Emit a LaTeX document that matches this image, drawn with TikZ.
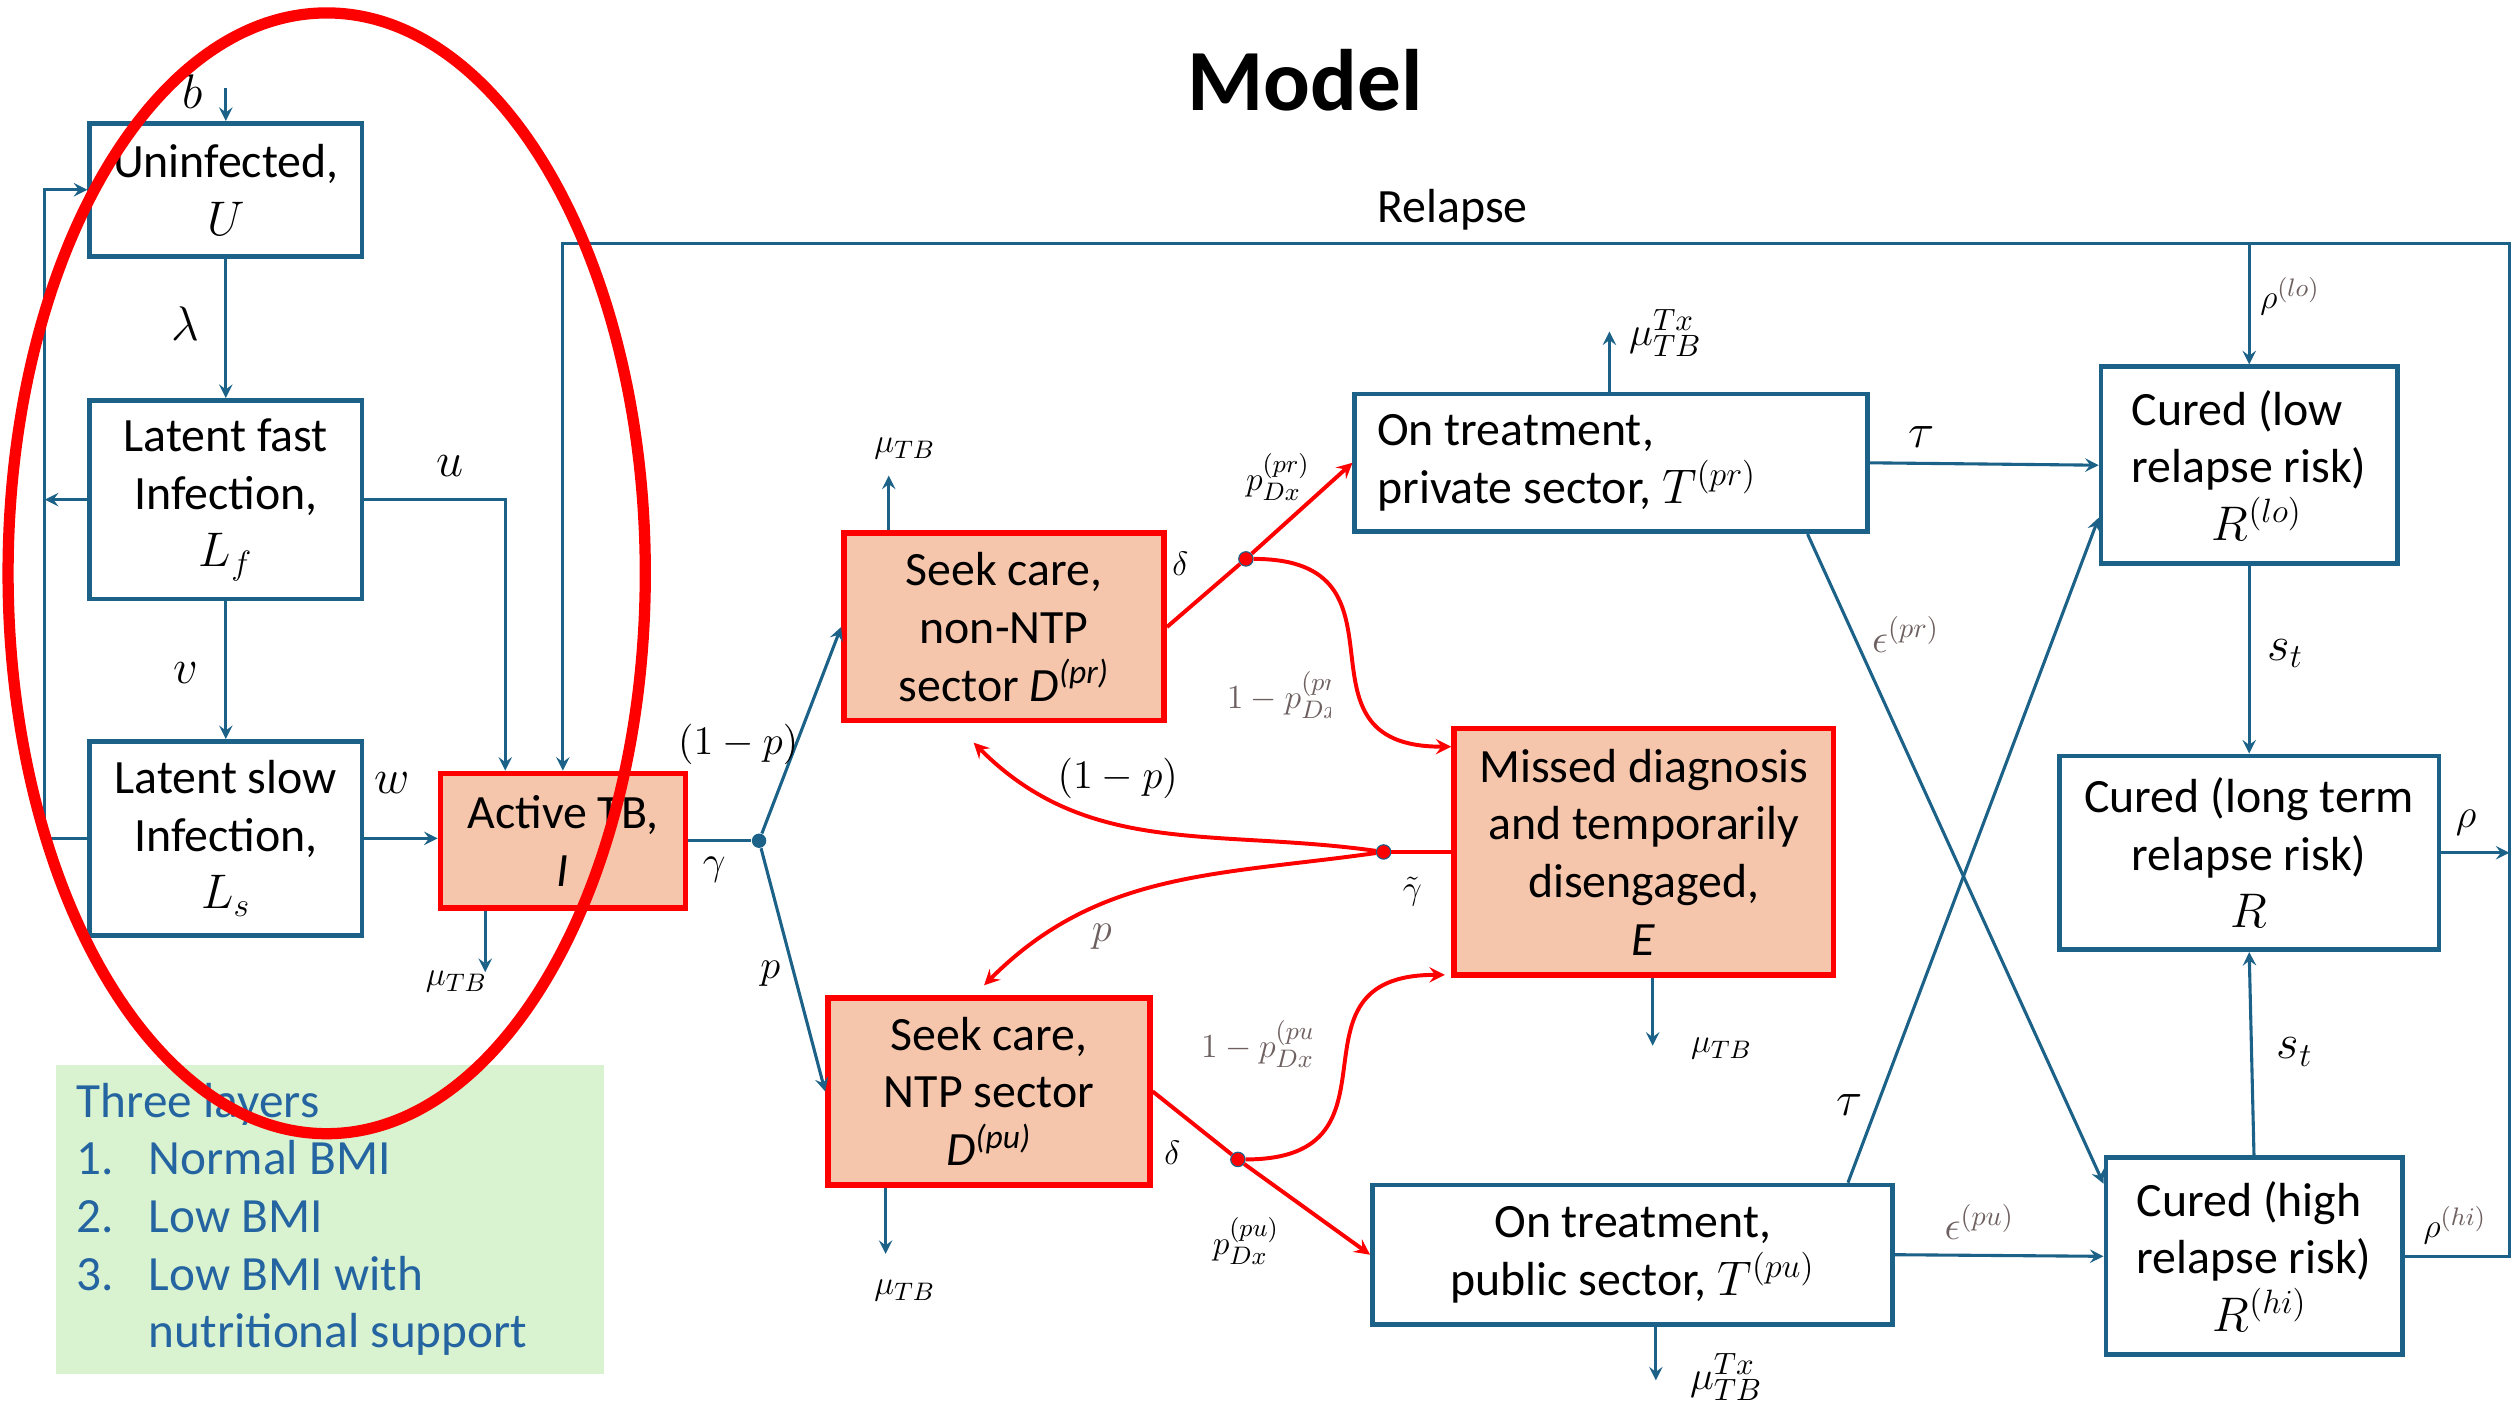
\documentclass[tikz,border=0pt]{standalone}
\usepackage{fontspec}
\setmainfont{Carlito}
\usetikzlibrary{calc}

\definecolor{boxblue}{RGB}{28,98,136}
\definecolor{salmon}{RGB}{246,198,172}
\definecolor{layergreen}{RGB}{217,242,208}
\definecolor{layerblue}{RGB}{36,100,160}
\definecolor{labelgray}{RGB}{110,96,96}

\newcommand{\boxfont}{\fontsize{17}{20.5}\selectfont}

\tikzset{
  bluebox/.style={draw=boxblue, line width=1.7pt, fill=white, font=\boxfont, align=center, inner sep=2pt},
  redbox/.style={draw=red, line width=2pt, fill=salmon, font=\boxfont, align=center, inner sep=2pt},
  flow/.style={->, draw=boxblue, line width=1.1pt},
  blueline/.style={draw=boxblue, line width=1.1pt},
  redflow/.style={->, draw=red, line width=1.4pt},
  redline/.style={draw=red, line width=1.4pt},
  lab/.style={font=\fontsize{15}{18}\selectfont, inner sep=1pt},
  biglab/.style={font=\fontsize{17}{20}\selectfont, inner sep=1pt},
  smalllab/.style={font=\fontsize{13}{15}\selectfont, inner sep=1pt},
  graylab/.style={font=\fontsize{14}{16}\selectfont, inner sep=1pt, text=labelgray},
  junction/.style={circle, inner sep=0pt, minimum size=0.18cm}
}

\begin{document}
\begin{tikzpicture}[x=0.02cm, y=0.02cm, >=stealth]
		% Rahmen festlegen
		\useasboundingbox (0,0) rectangle (1568,-879);
		
		% Titel
		\node[font=\fontsize{31}{36}\selectfont\bfseries] (Title) at (815,-50) {Model};
		\node[font=\boxfont] (Relapse-Label) at (907,-131) {Relapse};
		
		% Kaesten links
		\node[bluebox, minimum width=3.4cm, minimum height=1.66cm] (U-Box) at (141,-118.5) {Uninfected,\\$U$};
		\node[bluebox, minimum width=3.4cm, minimum height=2.48cm] (Lf-Box) at (141,-312) {Latent fast\\Infection,\\$L_f$};
		\node[bluebox, minimum width=3.4cm, minimum height=2.42cm] (Ls-Box) at (141,-523.5) {Latent slow\\Infection,\\$L_s$};
		\node[redbox, minimum width=3.06cm, minimum height=1.68cm] (I-Box) at (351.5,-525) {Active TB,\\\textit{I}};
		
		% Kaesten Mitte
		\node[redbox, minimum width=4cm, minimum height=2.34cm] (Dpr-Box) at (627,-391.5) {Seek care,\\non-NTP\\sector \textit{D}\textsuperscript{\textit{(pr)}}};
		\node[redbox, minimum width=4.02cm, minimum height=2.34cm] (Dpu-Box) at (617.5,-681.5) {Seek care,\\NTP sector\\\textit{D}\textsuperscript{\textit{(pu)}}};
		\node[redbox, minimum width=4.74cm, minimum height=3.08cm] (E-Box) at (1026.5,-532) {Missed diagnosis\\and temporarily\\disengaged,\\\textit{E}};
		\node[bluebox, text width=5.84cm, inner xsep=0.28cm, minimum height=1.72cm, align=flush left] (Tpr-Box) at (1006,-289) {On treatment,\\private sector, $T^{(pr)}$};
		\node[bluebox, minimum width=6.5cm, minimum height=1.74cm] (Tpu-Box) at (1019.5,-783.5) {On treatment,\\public sector, $T^{(pu)}$};
		
		% Kaesten rechts
		\node[bluebox, minimum width=3.7cm, minimum height=2.46cm, align=left] (Rlo-Box) at (1404.5,-290.5) {Cured (low\\relapse risk)\\\hspace*{1.0cm}$R^{(lo)}$};
		\node[bluebox, minimum width=4.74cm, minimum height=2.42cm] (R-Box) at (1404.5,-532.5) {Cured (long term\\relapse risk)\\$R$};
		\node[bluebox, minimum width=3.7cm, minimum height=2.46cm, align=left] (Rhi-Box) at (1407.5,-784.5) {Cured (high\\relapse risk)\\\hspace*{0.95cm}$R^{(hi)}$};
		
		% Legende
		\node[fill=layergreen, text=layerblue, font=\fontsize{17.5}{20.5}\selectfont, text width=6.32cm, inner xsep=0.26cm, minimum height=3.86cm, align=flush left] (Layers-Box) at (206,-761.5) {Three layers\\\makebox[0.9cm][l]{1.}Normal BMI\\\makebox[0.9cm][l]{2.}Low BMI\\\makebox[0.9cm][l]{3.}Low BMI with\\\hspace*{0.9cm}nutritional support};
		
		% Pfeile links
		\coordinate (b-Start) at (141,-55);
		\coordinate (Loop-Left) at (28,-118.5);
		\coordinate (u-In) at ($(I-Box.north west)!0.27!(I-Box.north east)$);
		\draw[flow] (b-Start) -- (U-Box.north);
		\draw[flow] (U-Box.south) -- (Lf-Box.north);
		\draw[flow] (Lf-Box.south) -- (Ls-Box.north);
		\draw[flow] (Ls-Box.west) -| (Loop-Left) -- (U-Box.west);
		\draw[flow] (Lf-Box.west) -- (Lf-Box.west -| Loop-Left);
		\draw[flow] (Lf-Box.east) -| (u-In);
		\draw[flow] (Ls-Box.east) -- (Ls-Box.east -| I-Box.west);
		
		% Rueckfall
		\coordinate (Relapse-Corner) at (1567,-152);
		\draw[flow] (Rhi-Box.east) -| (Relapse-Corner) -| (Rlo-Box.north);
		\draw[flow] (Rlo-Box.north |- Relapse-Corner) -| (I-Box.north);
		\draw[flow] (R-Box.east) -- (R-Box.east -| Relapse-Corner);
		
		% Sterblichkeit
		\coordinate (muI-End) at (303,-607);
		\coordinate (muDpr-End) at (555,-297);
		\coordinate (muDpu-End) at (553,-783);
		\coordinate (muE-End) at (1032,-653);
		\coordinate (muTpr-End) at (1005,-207);
		\coordinate (muTpu-End) at (1034,-862);
		\draw[flow] (muI-End |- I-Box.south) -- (muI-End);
		\draw[flow] (muDpr-End |- Dpr-Box.north) -- (muDpr-End);
		\draw[flow] (muDpu-End |- Dpu-Box.south) -- (muDpu-End);
		\draw[flow] (muE-End |- E-Box.south) -- (muE-End);
		\draw[flow] (muTpr-End |- Tpr-Box.north) -- (muTpr-End);
		\draw[flow] (muTpu-End |- Tpu-Box.south) -- (muTpu-End);
		
		% Verzweigung nach Active TB
		\node[junction, fill=boxblue] (gamma-Dot) at (474,-525) {};
		\draw[blueline] (I-Box.east) -- (gamma-Dot);
		\draw[flow] (gamma-Dot) -- (Dpr-Box.west);
		\draw[flow] (gamma-Dot) -- (Dpu-Box.west);
		
		% Diagnose (rot)
		\node[junction, fill=red, draw=boxblue, line width=0.4pt] (Dpr-Dot) at (778,-349) {};
		\node[junction, fill=red, draw=boxblue, line width=0.4pt] (Dpu-Dot) at (773,-724) {};
		\node[junction, fill=red, draw=boxblue, line width=0.4pt] (E-Dot) at (864,-532) {};
		\coordinate (E-In1) at ($(E-Box.north west)+(0,-13)$);
		\coordinate (E-In2) at ($(E-Box.south west)+(-4,2)$);
		\coordinate (Dpr-In) at ($(Dpr-Box.south)+(-19,-12)$);
		\coordinate (Dpu-In) at ($(Dpu-Box.north)+(-3,6)$);
		\draw[redline] (Dpr-Box.east) -- (Dpr-Dot);
		\draw[redflow] (Dpr-Dot) -- (Tpr-Box.west);
		\draw[redflow] (Dpr-Dot) to[out=0, in=180, looseness=1.6] (E-In1);
		\draw[redline] (Dpu-Box.east) -- (Dpu-Dot);
		\draw[redflow] (Dpu-Dot) -- (Tpu-Box.west);
		\draw[redflow] (Dpu-Dot) to[out=0, in=180, looseness=1.6] (E-In2);
		\draw[redline] (E-Box.west) -- (E-Dot);
		\draw[redflow] (E-Dot) to[out=172, in=-45] (Dpr-In);
		\draw[redflow] (E-Dot) to[out=188, in=45] (Dpu-In);
		
		% Behandlung und Heilung
		\coordinate (eps-pr-Start) at ($(Tpr-Box.south west)!0.88!(Tpr-Box.south east)$);
		\coordinate (eps-pr-End) at ($(Rhi-Box.north west)!0.14!(Rhi-Box.south west)$);
		\coordinate (tau-pu-Start) at ($(Tpu-Box.north west)!0.91!(Tpu-Box.north east)$);
		\coordinate (tau-pu-End) at ($(Rlo-Box.north west)!0.76!(Rlo-Box.south west)$);
		\draw[flow] (Tpr-Box.east) -- (Rlo-Box.west);
		\draw[flow] (eps-pr-Start) -- (eps-pr-End);
		\draw[flow] (tau-pu-Start) -- (tau-pu-End);
		\draw[flow] (Tpu-Box.east) -- (Rhi-Box.west);
		\draw[flow] (Rlo-Box.south) -- (R-Box.north);
		\draw[flow] (Rhi-Box.north) -- (R-Box.south);
		
		% Beschriftungen
		\node[biglab] (b-Label) at (120,-57) {$b$};
		\node[biglab] (lambda-Label) at (116,-202) {$\lambda$};
		\node[biglab] (v-Label) at (116,-420) {$v$};
		\node[biglab] (u-Label) at (281,-291) {$u$};
		\node[biglab] (w-Label) at (245,-489) {$w$};
		\node[smalllab] (muI-Label) at (285,-613) {$\mu_{TB}$};
		\node[lab] (gamma-Label) at (446,-543) {$\gamma$};
		\node[lab] (pr-Label) at (461,-465) {$(1-p)$};
		\node[lab] (pu-Label) at (481,-608) {$p$};
		\node[smalllab] (muDpr-Label) at (565,-280) {$\mu_{TB}$};
		\node[smalllab] (deltapr-Label) at (737,-352) {$\delta$};
		\node[smalllab] (Dxpr-Label) at (798,-298) {$p_{Dx}^{(pr)}$};
		\node[lab] (back-pr-Label) at (698,-486) {$(1-p)$};
		\node[graylab] (back-pu-Label) at (688,-585) {$p$};
		\node[smalllab] (gammaE-Label) at (882,-557) {$\tilde{\gamma}$};
		\node[smalllab] (deltapu-Label) at (732,-720) {$\delta$};
		\node[smalllab] (Dxpu-Label) at (778,-775) {$p_{Dx}^{(pu)}$};
		\node[smalllab] (muDpu-Label) at (565,-806) {$\mu_{TB}$};
		\node[smalllab] (muE-Label) at (1075,-655) {$\mu_{TB}$};
		\node[lab] (muTpr-Label) at (1040,-208) {$\mu_{TB}^{Tx}$};
		\node[lab] (muTpu-Label) at (1078,-860) {$\mu_{TB}^{Tx}$};
		\node[biglab] (tau-pr-Label) at (1200,-273) {$\tau$};
		\node[graylab] (eps-pr-Label) at (1190,-396) {$\epsilon^{(pr)}$};
		\node[biglab] (tau-pu-Label) at (1155,-690) {$\tau$};
		\node[graylab] (eps-pu-Label) at (1236,-763) {$\epsilon^{(pu)}$};
		\node[smalllab] (rho-lo-Label) at (1430,-185) {$\rho^{\color{labelgray}(lo)}$};
		\node[biglab] (st-lo-Label) at (1427,-408) {$s_t$};
		\node[lab] (rho-Label) at (1540,-514) {$\rho$};
		\node[biglab] (st-hi-Label) at (1433,-657) {$s_t$};
		\node[smalllab] (rho-hi-Label) at (1533,-765) {$\rho^{\color{labelgray}(hi)}$};
		
		% abgeschnittene Beschriftungen
		\begin{scope}
			\clip (755,-412) rectangle (831,-458);
			\node[graylab, font=\fontsize{13}{15}\selectfont, anchor=west] (notDx-pr-Label) at (764,-434) {$1-p_{Dx}^{(pr)}$};
		\end{scope}
		\begin{scope}
			\clip (740,-630) rectangle (819,-676);
			\node[graylab, font=\fontsize{13}{15}\selectfont, anchor=west] (notDx-pu-Label) at (748,-652) {$1-p_{Dx}^{(pu)}$};
		\end{scope}
		
		% Markierung
		\draw[red, line width=4pt] (204,-358) ellipse [x radius=3.98cm, y radius=7cm];
	\end{tikzpicture}
\end{document}
